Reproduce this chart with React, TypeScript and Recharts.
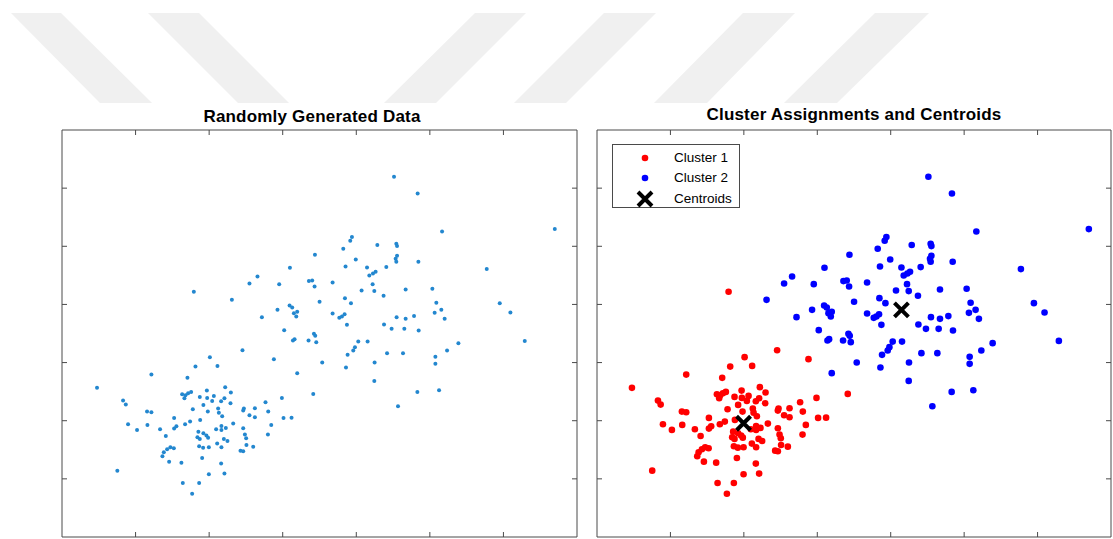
import { ScatterChart, Scatter, XAxis, YAxis, Legend } from "recharts"

// values, axis units 0..7 (no tick labels in the source)
const cluster1: [number, number][] = [
  [1.792, 4.217], [2.453, 3.213], [2.01, 3.093], [2.113, 2.943], [1.814, 2.931],
  [2.88, 3.059], [1.215, 2.793], [1.705, 2.737], [0.476, 2.565], [3.415, 2.461],
  [2.218, 2.577], [1.969, 2.518], [2.295, 2.484], [1.633, 2.456], [1.678, 2.439],
  [1.714, 2.473], [1.755, 2.496], [1.664, 2.387], [1.873, 2.41], [1.973, 2.392],
  [2.064, 2.427], [2.208, 2.387], [2.163, 2.336], [0.83, 2.346], [0.867, 2.277],
  [2.29, 2.301], [1.922, 2.272], [2.041, 2.341], [2.989, 2.392], [2.766, 2.318],
  [1.778, 2.198], [1.982, 2.157], [2.122, 2.208], [2.132, 2.139], [2.472, 2.208],
  [2.463, 2.174], [2.622, 2.215], [1.156, 2.157], [1.215, 2.146], [2.803, 2.157],
  [2.548, 2.095], [2.622, 2.06], [2.177, 2.077], [3.011, 2.048], [3.12, 2.053],
  [1.524, 2.048], [1.741, 1.985], [1.673, 1.94], [1.878, 2.014], [0.898, 1.94],
  [1.161, 1.928], [1.02, 1.842], [1.333, 1.854], [1.555, 1.905], [1.524, 1.864],
  [2.167, 1.91], [2.227, 1.876], [2.167, 1.842], [2.327, 1.95], [2.463, 1.871],
  [2.844, 1.928], [1.411, 1.738], [1.841, 1.716], [1.873, 1.687], [1.963, 1.744],
  [1.986, 1.709], [2.486, 1.761], [2.503, 1.699], [2.799, 1.761], [2.2, 1.687],
  [2.249, 1.652], [1.864, 1.561], [1.918, 1.537], [1.996, 1.544], [2.109, 1.606],
  [2.167, 1.544], [2.507, 1.583], [2.599, 1.554], [2.426, 1.485], [2.463, 1.475],
  [1.473, 1.544], [1.52, 1.527], [1.429, 1.509], [1.384, 1.458], [1.365, 1.389],
  [1.456, 1.296], [1.905, 1.36], [1.623, 1.279], [2.163, 1.262], [0.752, 1.141],
  [1.996, 1.079], [2.208, 1.09], [1.642, 0.929], [1.864, 0.929], [1.769, 0.745],
  [1.854, 1.812], [2.095, 1.854], [1.922, 1.785],
]

const cluster2: [number, number][] = [
  [3.438, 4.854], [3.098, 4.63], [2.657, 4.48], [2.548, 4.36], [2.952, 4.349],
  [3.356, 4.401], [3.401, 4.411], [3.433, 4.308], [2.309, 4.079], [3.093, 3.981],
  [3.129, 3.947], [3.197, 3.873], [3.152, 3.85], [3.184, 3.792], [2.929, 3.907],
  [3.501, 4.045], [2.717, 3.781], [3.02, 3.558], [3.424, 3.494], [3.941, 5.158],
  [3.918, 5.095], [3.823, 4.957], [3.993, 4.773], [3.854, 4.652], [3.678, 4.377],
  [3.846, 4.108], [3.928, 4.022], [3.678, 3.843], [3.805, 3.792], [3.841, 3.83],
  [4.513, 6.196], [4.834, 5.909], [5.166, 5.255], [6.698, 5.296], [4.286, 5.021],
  [4.544, 5.043], [4.554, 5.003], [4.554, 4.836], [4.535, 4.785], [4.544, 4.733],
  [4.844, 4.733], [4.146, 4.635], [4.408, 4.642], [4.263, 4.561], [4.227, 4.532],
  [4.177, 4.497], [5.773, 4.608], [4.222, 4.349], [4.072, 4.239], [4.245, 4.229],
  [4.671, 4.256], [5.034, 4.269], [4.371, 4.148], [5.088, 4.028], [5.95, 4.022],
  [6.095, 3.861], [3.769, 3.769], [5.156, 3.907], [5.065, 3.855], [4.548, 3.781],
  [4.671, 3.752], [4.785, 3.799], [5.201, 3.752], [3.873, 3.649], [4.377, 3.654],
  [4.48, 3.58], [4.653, 3.58], [4.848, 3.551], [3.442, 3.46], [3.456, 3.351],
  [4.027, 3.361], [4.154, 3.361], [3.982, 3.265], [3.959, 3.207], [3.882, 3.133],
  [3.537, 3.0], [3.86, 2.914], [4.249, 3.0], [4.418, 3.162], [4.635, 3.162],
  [5.075, 3.098], [5.075, 2.978], [5.234, 3.207], [5.388, 3.334], [6.29, 3.373],
  [4.245, 2.685], [4.83, 2.496], [5.125, 2.525], [4.567, 2.25], [3.161, 3.403],
  [3.139, 3.379], [3.351, 3.379], [3.197, 2.818],
]

const centroids: [number, number][] = [[1.996, 1.957], [4.146, 3.907]]

const ticks = [1, 2, 3, 4, 5, 6]
const titles = ["Randomly Generated Data", "Cluster Assignments and Centroids"]
const legendLabels = ["Cluster 1", "Cluster 2", "Centroids"]

// faint watermark bands at the top of the page
const bands = [
  "11,13 61,13 152,103 100,103",
  "148,13 199,13 289,103 238,103",
  "475,13 526,13 436,103 384,103",
  "604,13 656,13 566,103 514,103",
  "743,13 795,13 707,103 654,103",
  "875,13 929,13 837,103 784,103",
]

const AXIS = "#4a4a4a"
const FONT = "'Liberation Sans', Arial, sans-serif"

const toPts = (arr: [number, number][]) => arr.map(([x, y]) => ({ x, y }))
const allPts = toPts([...cluster1, ...cluster2])

const noTick = () => <g />

const dot = (r: number, fill: string) => (p: any) => <circle cx={p.cx} cy={p.cy} r={r} fill={fill} />

const cross = (p: any) => {
  const s = 7
  return (
    <path
      d={`M${p.cx - s},${p.cy - s}L${p.cx + s},${p.cy + s}M${p.cx + s},${p.cy - s}L${p.cx - s},${p.cy + s}`}
      stroke="#000"
      strokeWidth={4}
    />
  )
}

function boxAxes() {
  const common = { type: "number" as const, domain: [0, 7], ticks, mirror: true, tick: noTick, tickSize: 5, stroke: AXIS, allowDataOverflow: true }
  return [
    <XAxis key="b" xAxisId="b" dataKey="x" orientation="bottom" {...common} />,
    <XAxis key="t" xAxisId="t" dataKey="x" orientation="top" {...common} />,
    <YAxis key="l" yAxisId="l" dataKey="y" orientation="left" {...common} />,
    <YAxis key="r" yAxisId="r" dataKey="y" orientation="right" {...common} />,
  ]
}

function LegendBox() {
  const colors = ["#ff0000", "#0000ff"]
  return (
    <div style={{ width: 126, height: 62, border: `1px solid ${AXIS}`, background: "#fff", position: "relative", fontFamily: FONT, fontSize: 13.5, color: "#000" }}>
      {legendLabels.map((lab, i) => {
        const cy = [13, 33, 54][i]
        return (
          <div key={lab} style={{ position: "absolute", left: 0, top: cy - 9, height: 18, width: 126 }}>
            <svg width={50} height={18} style={{ position: "absolute", left: 22, top: 0 }}>
              {i < 2 ? (
                <circle cx={10} cy={9} r={3.3} fill={colors[i]} />
              ) : (
                <path d="M3,2L17,16M17,2L3,16" stroke="#000" strokeWidth={4} />
              )}
            </svg>
            <span style={{ position: "absolute", left: 61, top: 1, lineHeight: "16px", whiteSpace: "nowrap" }}>{lab}</span>
          </div>
        )
      })}
    </div>
  )
}

const titleStyle = (cx: number, cy: number): React.CSSProperties => ({
  position: "absolute", left: cx - 250, top: cy - 11, width: 500, textAlign: "center",
  fontFamily: FONT, fontWeight: "bold", fontSize: 17, letterSpacing: 0.2, lineHeight: "22px", color: "#000",
})

export default function App() {
  return (
    <div style={{ position: "fixed", left: 0, top: 0, width: 1113, height: 539, background: "#fff", overflow: "hidden" }}>
      <svg width={1113} height={110} style={{ position: "absolute", left: 0, top: 0 }}>
        {bands.map((b) => <polygon key={b} points={b} fill="#f0f0f0" />)}
      </svg>

      <div style={titleStyle(312, 117)}>{titles[0]}</div>
      <div style={titleStyle(854, 115)}>{titles[1]}</div>

      <div style={{ position: "absolute", left: 61, top: 129 }}>
        <ScatterChart width={517} height={409} margin={{ top: 1, right: 1, bottom: 1, left: 1 }}>
          {boxAxes()}
          <Scatter xAxisId="b" yAxisId="l" data={allPts} shape={dot(2, "#2387cf")} isAnimationActive={false} />
        </ScatterChart>
      </div>

      <div style={{ position: "absolute", left: 596, top: 129 }}>
        <ScatterChart width={516} height={409} margin={{ top: 1, right: 1, bottom: 1, left: 1 }}>
          {boxAxes()}
          <Scatter xAxisId="b" yAxisId="l" name="Cluster 1" data={toPts(cluster1)} shape={dot(3.3, "#ff0000")} isAnimationActive={false} />
          <Scatter xAxisId="b" yAxisId="l" name="Cluster 2" data={toPts(cluster2)} shape={dot(3.3, "#0000ff")} isAnimationActive={false} />
          <Scatter xAxisId="b" yAxisId="l" name="Centroids" data={toPts(centroids)} shape={cross} isAnimationActive={false} />
          <Legend
            layout="vertical"
            align="center"
            verticalAlign="middle"
            content={() => <LegendBox />}
            wrapperStyle={{ left: 16, top: 15, width: 128, height: 64 }}
          />
        </ScatterChart>
      </div>
    </div>
  )
}
